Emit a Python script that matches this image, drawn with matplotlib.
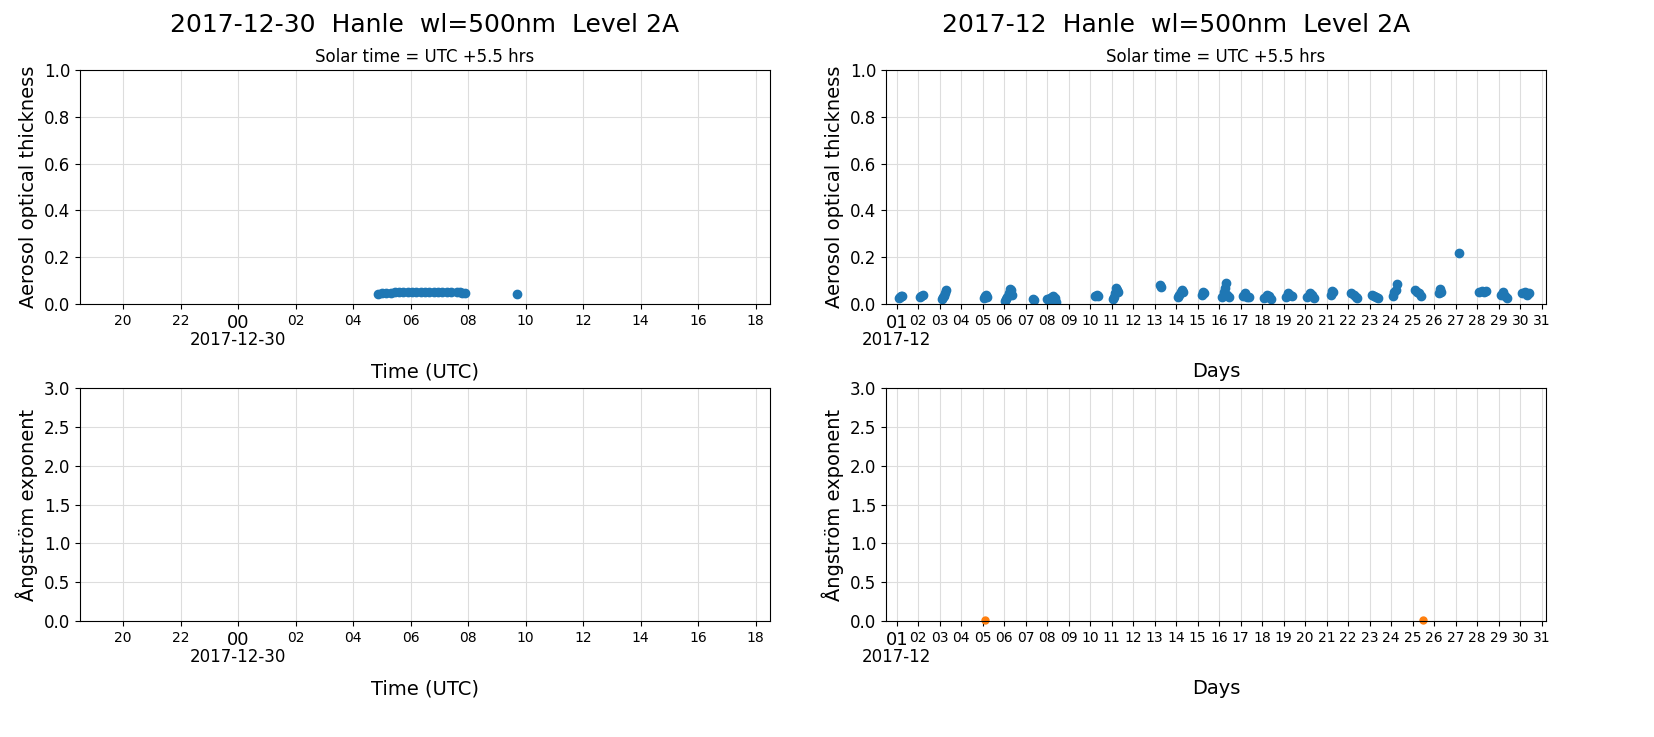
import matplotlib
matplotlib.use('Agg')
import matplotlib.pyplot as plt

# day plot: hours since 2017-12-30 00 UTC
day_hours = [4.88, 5.0, 5.15, 5.3, 5.45, 5.6, 5.75, 5.9, 6.05, 6.2, 6.35, 6.5, 6.65, 6.8,
             6.95, 7.1, 7.25, 7.4, 7.6, 7.7, 7.8, 7.88, 9.7]
day_aod = [0.043, 0.046, 0.048, 0.049, 0.051, 0.051, 0.052, 0.051, 0.052, 0.052, 0.051, 0.052,
           0.052, 0.051, 0.052, 0.051, 0.052, 0.051, 0.052, 0.051, 0.049, 0.047, 0.044]

# month plot: day of month (fractional)
mon_days = [1.1, 1.15, 1.2, 1.25, 2.1, 2.15, 2.2, 3.1, 3.15, 3.2, 3.25, 3.3,
            5.05, 5.1, 5.15, 5.2, 6.05, 6.1, 6.15, 6.2, 6.25, 6.3, 6.35, 7.35, 7.4,
            8.0, 8.1, 8.15, 8.2, 8.25, 8.3, 8.35, 8.4, 10.2, 10.3, 10.35,
            11.05, 11.1, 11.15, 11.2, 11.25, 11.3, 13.25, 13.3, 14.1, 14.15, 14.2, 14.25, 14.3,
            15.2, 15.25, 15.3, 16.15, 16.2, 16.25, 16.3, 16.35, 16.45, 17.1, 17.2, 17.3, 17.4,
            18.1, 18.2, 18.25, 18.3, 18.4, 19.1, 19.2, 19.3, 19.4, 20.1, 20.2, 20.3, 20.4,
            21.2, 21.25, 21.3, 22.15, 22.25, 22.35, 22.4, 23.1, 23.2, 23.3, 23.4,
            24.1, 24.15, 24.2, 24.25, 25.1, 25.2, 25.3, 25.4, 26.2, 26.25, 26.3, 27.15,
            28.1, 28.2, 28.3, 28.4, 29.1, 29.2, 29.3, 29.4, 30.1, 30.2, 30.3, 30.4]
mon_aod = [0.025, 0.03, 0.035, 0.033, 0.028, 0.035, 0.04, 0.022, 0.03, 0.035, 0.045, 0.06,
           0.025, 0.035, 0.04, 0.03, 0.012, 0.02, 0.03, 0.045, 0.065, 0.06, 0.04, 0.02, 0.015,
           0.02, 0.015, 0.025, 0.03, 0.035, 0.02, 0.025, 0.01, 0.035, 0.04, 0.035,
           0.02, 0.03, 0.045, 0.07, 0.06, 0.05, 0.08, 0.072, 0.03, 0.04, 0.05, 0.06, 0.05,
           0.04, 0.05, 0.048, 0.03, 0.05, 0.07, 0.09, 0.04, 0.03, 0.035, 0.045, 0.03, 0.028,
           0.025, 0.04, 0.03, 0.035, 0.02, 0.03, 0.045, 0.04, 0.035, 0.03, 0.045, 0.04, 0.025,
           0.04, 0.055, 0.05, 0.045, 0.04, 0.03, 0.025, 0.04, 0.035, 0.03, 0.025,
           0.035, 0.05, 0.06, 0.085, 0.06, 0.05, 0.045, 0.035, 0.045, 0.065, 0.05, 0.22,
           0.05, 0.055, 0.05, 0.055, 0.04, 0.05, 0.035, 0.025, 0.045, 0.05, 0.04, 0.045]

ang_days = [5.1, 25.5]
ang_vals = [0.01, 0.01]

day_ticks = [-4, -2, 0, 2, 4, 6, 8, 10, 12, 14, 16, 18]
day_labels = ['20', '22', '00', '02', '04', '06', '08', '10', '12', '14', '16', '18']
mon_ticks = list(range(1, 32))
mon_labels = ['%02d' % d for d in mon_ticks]

fig = plt.figure(figsize=(16.54, 7.37), dpi=100)
W, H = 1654, 737
def mkax(x0, y0, x1, y1):
    return fig.add_axes([x0 / W, 1 - y1 / H, (x1 - x0) / W, (y1 - y0) / H])

axes = [mkax(80, 70, 770, 304), mkax(886, 70, 1546, 304),
        mkax(80, 388, 770, 621), mkax(886, 388, 1546, 621)]

def style_day(ax):
    ax.set_xlim(-5.5, 18.5)
    ax.set_xticks(day_ticks)
    ax.set_xticklabels(day_labels)
    for t, lab in zip(ax.get_xticklabels(), day_labels):
        t.set_fontsize(13 if lab == '00' else 10)
    ax.text(0, -0.115, '2017-12-30', transform=ax.get_xaxis_transform(), ha='center', va='top', fontsize=12)
    ax.set_xlabel('Time (UTC)', fontsize=14, labelpad=22)

def style_mon(ax):
    ax.set_xlim(0.5, 31.2)
    ax.set_xticks(mon_ticks)
    ax.set_xticklabels(mon_labels)
    for t, lab in zip(ax.get_xticklabels(), mon_labels):
        t.set_fontsize(13 if lab == '01' else 10)
    ax.text(1, -0.115, '2017-12', transform=ax.get_xaxis_transform(), ha='center', va='top', fontsize=12)
    ax.set_xlabel('Days', fontsize=14, labelpad=22)

for ax in axes:
    ax.grid(color='#dddddd', linewidth=0.8)
    ax.set_axisbelow(True)
    ax.tick_params(axis='y', labelsize=12)

ax = axes[0]
ax.scatter(day_hours, day_aod, s=36, color='#1f77b4')
ax.set_ylim(0, 1)
ax.set_ylabel('Aerosol optical thickness', fontsize=14)
ax.set_title('Solar time = UTC +5.5 hrs', fontsize=12)
style_day(ax)
fig.text(425 / W, 1 - 25 / H, '2017-12-30  Hanle  wl=500nm  Level 2A', ha='center', va='center', fontsize=18)

ax = axes[1]
ax.scatter(mon_days, mon_aod, s=36, color='#1f77b4')
ax.set_ylim(0, 1)
ax.set_ylabel('Aerosol optical thickness', fontsize=14)
ax.set_title('Solar time = UTC +5.5 hrs', fontsize=12)
style_mon(ax)
fig.text(1176 / W, 1 - 25 / H, '2017-12  Hanle  wl=500nm  Level 2A', ha='center', va='center', fontsize=18)

ax = axes[2]
ax.set_ylim(0, 3)
ax.set_ylabel('Ångström exponent', fontsize=14)
style_day(ax)

ax = axes[3]
ax.scatter(ang_days, ang_vals, s=25, color='#ff7f0e', clip_on=False)
ax.set_ylim(0, 3)
ax.set_ylabel('Ångström exponent', fontsize=14)
style_mon(ax)

fig.savefig('out.png', dpi=100)
